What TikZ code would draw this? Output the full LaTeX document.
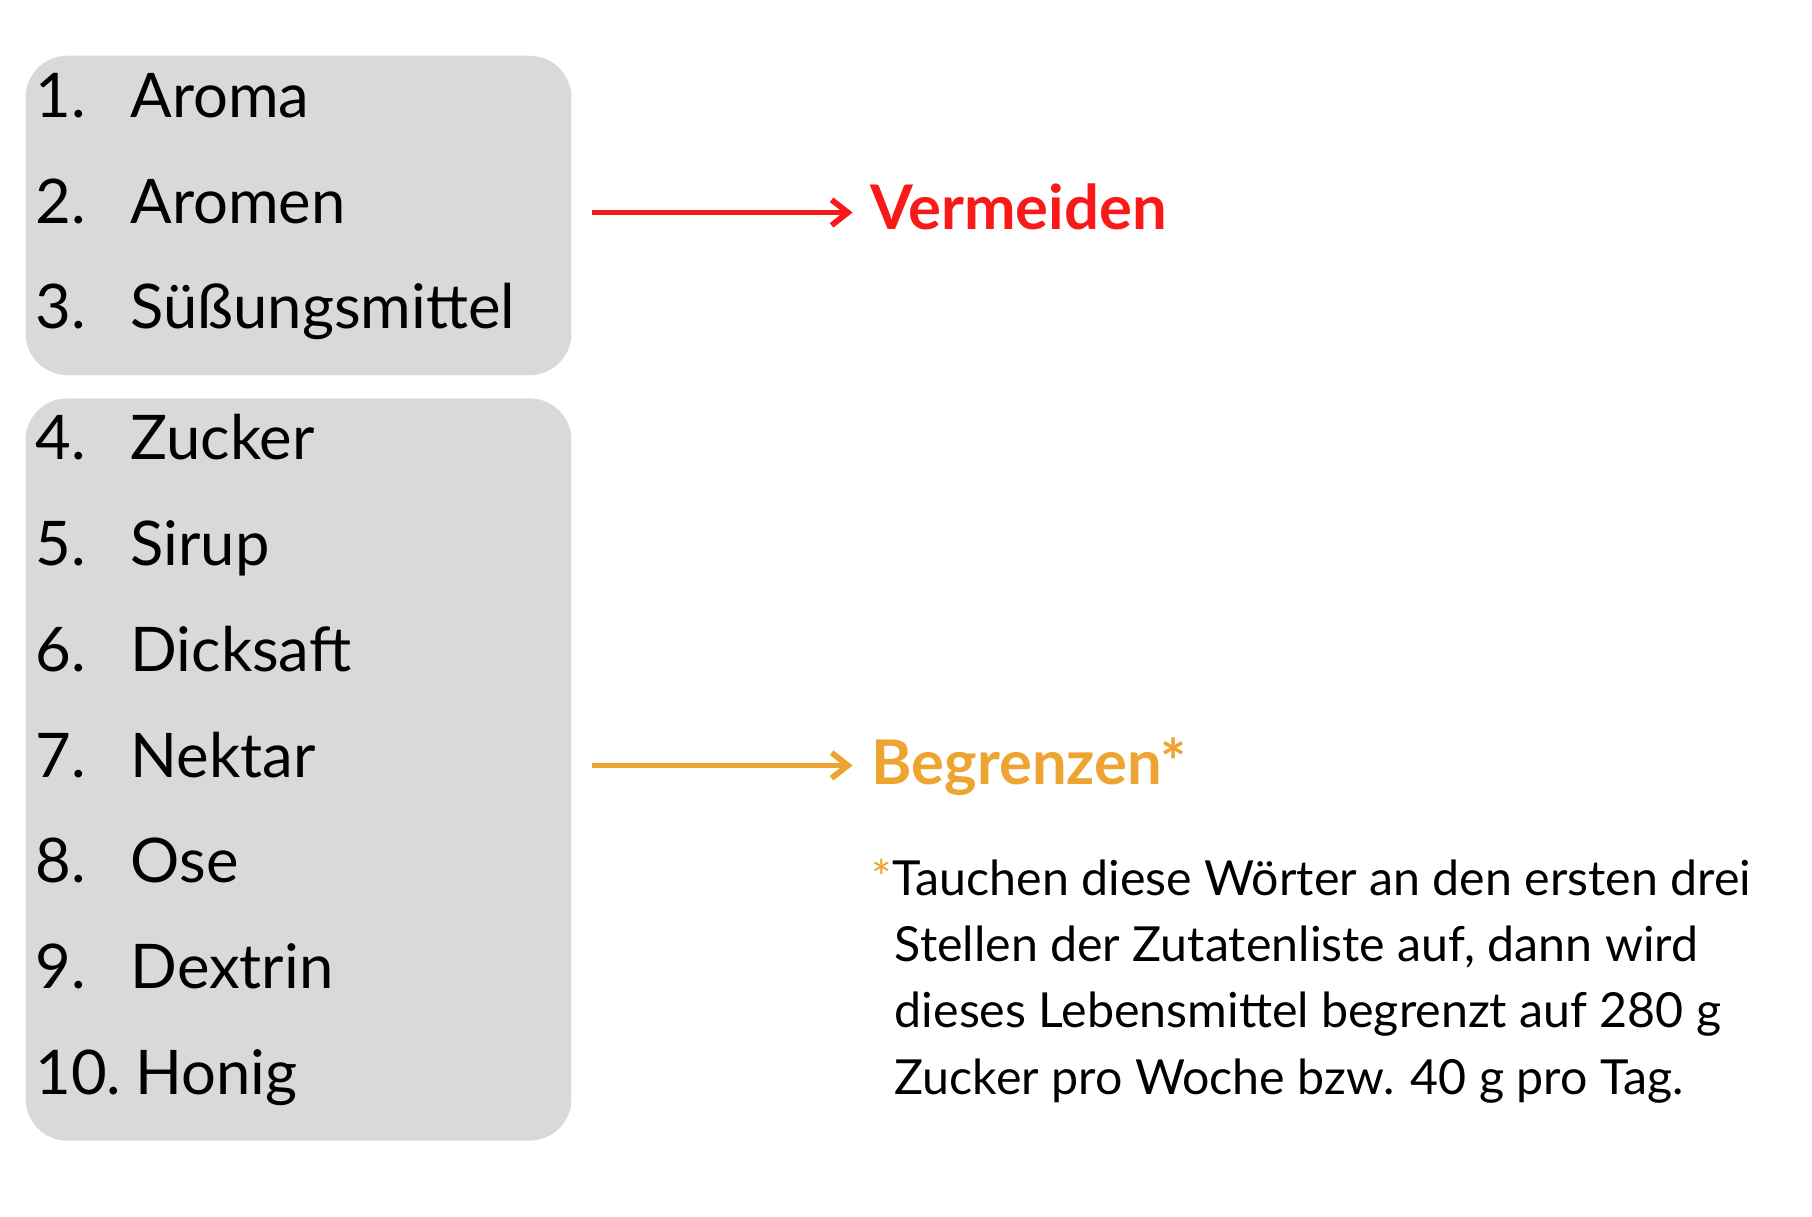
\documentclass[tikz,border=0pt]{standalone}
\usepackage{fontspec}
\setmainfont{Lato}
\usetikzlibrary{arrows.meta}
\definecolor{boxgray}{RGB}{217,217,217}
\definecolor{avoidred}{RGB}{250,25,25}
\definecolor{limitorange}{RGB}{237,164,48}
\tikzset{
  listbox/.style={fill=boxgray,rounded corners=18pt},
  item/.style={anchor=base west,inner sep=0pt,font=\fontsize{26.5}{30}\selectfont},
  verdict/.style={anchor=base west,inner sep=0pt,font=\fontsize{26.5}{30}\selectfont\bfseries},
  note/.style={anchor=base west,inner sep=0pt,font=\fontsize{20.8}{24}\selectfont},
  pointer/.style={line width=2.5pt,-{Straight Barb[length=7pt,width=11pt,line width=2.5pt]}}
}
\begin{document}
\begin{tikzpicture}[x=0.5pt,y=0.5pt,yscale=-1]
\useasboundingbox (0,0) rectangle (1560,1047);

% boxes
\fill[listbox] (22,48) rectangle (492,323);
\fill[listbox] (22,343) rectangle (492,982);

% list
\foreach \n/\word [count=\i] in {1./Aroma,2./Aromen,3./Süßungsmittel,4./Zucker,5./Sirup,6./Dicksaft,7./Nektar,8./Ose,9./Dextrin} {
  \pgfmathsetmacro{\yy}{\i<4 ? 101+(\i-1)*91 : 396+(\i-4)*91}
  \node[item] (num\i) at (30,\yy) {\n};
  \node[item] (word\i) at (112,\yy) {\word};
}
\node[item] (num10) at (30,942) {10.};
\node[item] (word10) at (116,942) {Honig};

% verdicts
\node[verdict,text=avoidred] (avoid) at (749,198) {Vermeiden};
\coordinate (redstart) at (510,183);
\coordinate (redend) at (734,183);
\draw[pointer,avoidred] (redstart) -- (redend);
\node[verdict,text=limitorange] (limit) at (750,675) {Begrenzen*};
\coordinate (orangestart) at (510,659);
\coordinate (orangeend) at (734,659);
\draw[pointer,limitorange] (orangestart) -- (orangeend);

% footnote
\node[note,text=limitorange] (star) at (750,771) {*};
\node[note] (line1) at (768,771) {Tauchen diese Wörter an den ersten drei};
\node[note] (line2) at (770,828) {Stellen der Zutatenliste auf, dann wird};
\node[note] (line3) at (770,885) {dieses Lebensmittel begrenzt auf 280 g};
\node[note] (line4) at (770,942) {Zucker pro Woche bzw. 40 g pro Tag.};
\end{tikzpicture}
\end{document}
